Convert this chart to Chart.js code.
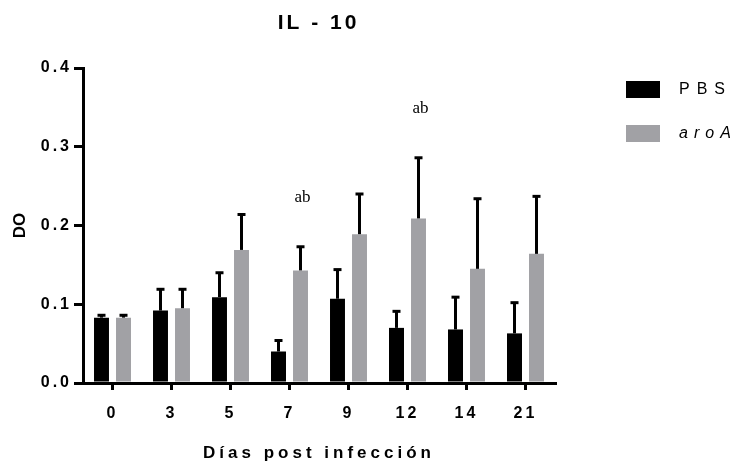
<!DOCTYPE html>
<html>
<head>
<meta charset="utf-8">
<script src="https://cdn.jsdelivr.net/npm/chart.js@4/dist/chart.umd.min.js"></script>
<style>
  html, body { margin: 0; padding: 0; background: #fff; }
  #wrap { width: 732px; height: 465px; position: relative; }
</style>
</head>
<body>
<div id="wrap"><canvas id="c"></canvas></div>
<script>
// Days post infection
const days = ["0", "3", "5", "7", "9", "12", "14", "21"];

// Mean optical density (DO) per group
const pbsMean  = [0.083, 0.092, 0.109, 0.040, 0.107, 0.070, 0.068, 0.063];
const aroaMean = [0.083, 0.095, 0.169, 0.143, 0.189, 0.209, 0.145, 0.164];

// Upper error (SEM) per group
const pbsErr  = [0.003, 0.027, 0.031, 0.014, 0.037, 0.021, 0.041, 0.039];
const aroaErr = [0.003, 0.024, 0.045, 0.030, 0.051, 0.077, 0.089, 0.073];

// Significance letters over the aroA bars
const aroaSig = ["", "", "", "ab", "", "ab", "", ""];

// Y axis ticks
const yTicks = [0.0, 0.1, 0.2, 0.3, 0.4];

const PBS_COLOR = "#000000";
const AROA_COLOR = "#a1a1a5";
const SANS = "'Liberation Sans', Arial, sans-serif";

const errorBars = {
  id: "errorBars",
  afterDatasetsDraw(chart) {
    const ctx = chart.ctx;
    const yScale = chart.scales.y;
    const errs = [pbsErr, aroaErr];
    ctx.save();
    ctx.letterSpacing = "0px";
    ctx.strokeStyle = "#000";
    ctx.lineWidth = 3;
    ctx.lineCap = "butt";
    chart.data.datasets.forEach((ds, di) => {
      const meta = chart.getDatasetMeta(di);
      meta.data.forEach((bar, i) => {
        const top = yScale.getPixelForValue(ds.data[i] + errs[di][i]);
        ctx.beginPath();
        ctx.moveTo(bar.x, bar.y);
        ctx.lineTo(bar.x, top);
        ctx.stroke();
        ctx.beginPath();
        ctx.moveTo(bar.x - 4, top);
        ctx.lineTo(bar.x + 4, top);
        ctx.stroke();
        if (di === 1 && aroaSig[i]) {
          ctx.fillStyle = "#000";
          ctx.font = "17px 'Liberation Serif', 'Times New Roman', serif";
          ctx.textAlign = "center";
          ctx.textBaseline = "middle";
          ctx.fillText(aroaSig[i], bar.x + 2, top - 49);
        }
      });
    });
    ctx.restore();
  }
};

const spacing = {
  id: "spacing",
  beforeDraw(chart) { chart.ctx.letterSpacing = "3px"; },
  afterDraw(chart) { chart.ctx.letterSpacing = "0px"; }
};

const decorations = {
  id: "decorations",
  afterDraw(chart) {
    const ctx = chart.ctx;
    const area = chart.chartArea;
    const cx = (area.left + area.right) / 2;
    ctx.save();
    ctx.fillStyle = "#000";
    ctx.textBaseline = "middle";
    ctx.textAlign = "center";

    // main title
    ctx.letterSpacing = "3px";
    ctx.font = "bold 21px " + SANS;
    ctx.fillText("IL - 10", cx - 0.5, 23);

    // x axis title
    ctx.letterSpacing = "4px";
    ctx.font = "bold 17px " + SANS;
    ctx.fillText("Días post infección", cx, 453);

    // y axis title
    ctx.letterSpacing = "0px";
    ctx.save();
    ctx.translate(20, (area.top + area.bottom) / 2);
    ctx.rotate(-Math.PI / 2);
    ctx.font = "bold 17px " + SANS;
    ctx.fillText("DO", 0, 0);
    ctx.restore();

    // legend
    const items = [
      { label: "PBS", color: PBS_COLOR, italic: false, spacing: "7px", y: 89 },
      { label: "aroA", color: AROA_COLOR, italic: true, spacing: "6px", y: 133 }
    ];
    ctx.textAlign = "left";
    items.forEach(it => {
      ctx.fillStyle = it.color;
      ctx.fillRect(626, it.y - 8, 34, 17);
      ctx.fillStyle = "#000";
      ctx.letterSpacing = it.spacing;
      ctx.font = (it.italic ? "italic " : "") + "16px " + SANS;
      ctx.fillText(it.label, 679, it.y + 1);
    });
    ctx.restore();
  }
};

new Chart(document.getElementById("c"), {
  type: "bar",
  data: {
    labels: days,
    datasets: [
      { label: "PBS", data: pbsMean, backgroundColor: PBS_COLOR },
      { label: "aroA", data: aroaMean, backgroundColor: AROA_COLOR }
    ]
  },
  options: {
    responsive: true,
    maintainAspectRatio: false,
    animation: false,
    events: [],
    layout: { padding: { left: 0, right: 177, top: 68, bottom: 22 } },
    plugins: {
      legend: { display: false },
      tooltip: { enabled: false },
      title: { display: false }
    },
    datasets: {
      bar: { categoryPercentage: 0.746, barPercentage: 0.68 }
    },
    scales: {
      x: {
        offset: true,
        grid: {
          offset: false,
          display: true,
          drawOnChartArea: false,
          drawTicks: true,
          tickLength: 7,
          lineWidth: 3,
          color: "#000"
        },
        border: { display: true, color: "#000", width: 3 },
        ticks: {
          color: "#000",
          padding: 14,
          font: { family: SANS, size: 16, weight: "bold" }
        },
        afterFit(s) { s.height = 60; }
      },
      y: {
        min: 0,
        max: 0.4,
        afterBuildTicks(s) { s.ticks = yTicks.map(v => ({ value: v })); },
        grid: {
          display: true,
          drawOnChartArea: false,
          drawTicks: true,
          tickLength: 9,
          lineWidth: 3,
          color: "#000"
        },
        border: { display: true, color: "#000", width: 3 },
        ticks: {
          color: "#000",
          padding: 2,
          callback: v => Number(v).toFixed(1),
          font: { family: SANS, size: 16, weight: "bold" }
        },
        afterFit(s) { s.width = 83; }
      }
    }
  },
  plugins: [spacing, errorBars, decorations]
});
</script>
</body>
</html>
